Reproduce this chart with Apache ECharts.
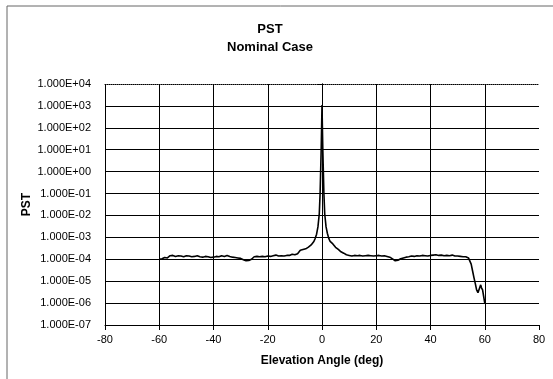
<!DOCTYPE html>
<html>
<head>
<meta charset="utf-8">
<script src="https://cdn.jsdelivr.net/npm/echarts@6/dist/echarts.min.js"></script>
<style>
    body { margin: 0; background: #fff; }
    #main { width: 553px; height: 379px; }
</style>
</head>
<body>
<div id="main"></div>
<script>
// elevation angle (deg)
var angles = [
    -60, -59, -58, -57, -56, -55, -54, -53, -52, -51,
    -50, -49, -48, -47, -46, -45, -44, -43, -42, -41,
    -40, -39, -38, -37, -36, -35, -34, -33, -32, -31,
    -30, -29, -28, -27, -26, -25, -24, -23, -22, -21,
    -20, -19, -18, -17, -16, -15, -14, -13, -12, -11,
    -10, -9, -8, -7, -6, -5, -4, -3, -2.5, -2, -1.5, -1, -0.7, -0.5, -0.3, -0.15,
    0,
    0.15, 0.3, 0.5, 0.7, 1, 1.5, 2, 2.5, 3, 4, 5, 6, 7, 8, 9,
    10, 11, 12, 13, 14, 15, 16, 17, 18, 19,
    20, 21, 22, 23, 24, 25, 26, 27, 28, 29,
    30, 31, 32, 33, 34, 35, 36, 37, 38, 39,
    40, 41, 42, 43, 44, 45, 46, 47, 48, 49,
    50, 51, 52, 53, 54, 54.5, 55, 55.5, 56, 56.5, 57, 57.5, 58, 58.5, 58.8, 59.2, 59.6, 60
];
// PST values
var pst = [
    1.0e-4, 1.05e-4, 1.2e-4, 1.15e-4, 1.45e-4, 1.5e-4, 1.35e-4, 1.45e-4, 1.4e-4, 1.3e-4,
    1.45e-4, 1.4e-4, 1.3e-4, 1.35e-4, 1.45e-4, 1.3e-4, 1.25e-4, 1.35e-4, 1.3e-4, 1.2e-4,
    1.25e-4, 1.35e-4, 1.3e-4, 1.45e-4, 1.35e-4, 1.5e-4, 1.35e-4, 1.25e-4, 1.2e-4, 1.15e-4,
    1.1e-4, 0.95e-4, 0.85e-4, 0.88e-4, 1.0e-4, 1.3e-4, 1.35e-4, 1.3e-4, 1.35e-4, 1.3e-4,
    1.4e-4, 1.35e-4, 1.45e-4, 1.55e-4, 1.4e-4, 1.45e-4, 1.4e-4, 1.5e-4, 1.5e-4, 1.7e-4,
    1.6e-4, 1.8e-4, 2.6e-4, 2.8e-4, 3.0e-4, 3.6e-4, 4.5e-4, 6.5e-4, 9e-4, 1.4e-3, 3e-3, 1.2e-2, 1e-1, 1, 1e1, 1e2,
    1.1e3,
    1e2, 1e1, 1, 1e-1, 1.2e-2, 3e-3, 1.5e-3, 9e-4, 6.5e-4, 5e-4, 3.5e-4, 2.8e-4, 2.2e-4, 1.9e-4, 1.6e-4,
    1.5e-4, 1.4e-4, 1.5e-4, 1.45e-4, 1.5e-4, 1.4e-4, 1.45e-4, 1.5e-4, 1.45e-4, 1.4e-4,
    1.45e-4, 1.5e-4, 1.4e-4, 1.45e-4, 1.35e-4, 1.25e-4, 1.05e-4, 0.85e-4, 0.9e-4, 1.05e-4,
    1.15e-4, 1.25e-4, 1.3e-4, 1.4e-4, 1.35e-4, 1.45e-4, 1.4e-4, 1.5e-4, 1.45e-4, 1.4e-4,
    1.5e-4, 1.55e-4, 1.6e-4, 1.5e-4, 1.55e-4, 1.45e-4, 1.5e-4, 1.45e-4, 1.55e-4, 1.4e-4,
    1.4e-4, 1.35e-4, 1.3e-4, 1.3e-4, 1.15e-4, 1.0e-4, 6e-5, 3e-5, 1.5e-5, 8e-6, 4e-6, 3e-6, 4.5e-6, 6.8e-6, 5e-6, 4e-6, 2e-6, 1e-6
];
var xTicks = { min: -80, max: 80, step: 20 };
var yTicks = { min: 1e-7, max: 1e4 };

var points = angles.map(function (a, i) { return [a, pst[i]]; });

function sciLabel(v) {
    var e = Math.round(Math.log(v) / Math.LN10);
    var m = v / Math.pow(10, e);
    var ex = Math.abs(e);
    return m.toFixed(3) + 'E' + (e < 0 ? '-' : '+') + (ex < 10 ? '0' : '') + ex;
}

var font = '"Liberation Sans", Arial, sans-serif';
var myChart = echarts.init(document.getElementById('main'));
var option = {
    backgroundColor: '#fff',
    animation: false,
    title: {
        text: 'PST\nNominal Case',
        left: 265,
        top: 15,
        textAlign: 'center',
        textStyle: { fontFamily: font, fontSize: 13, fontWeight: 'bold', color: '#000', lineHeight: 18 }
    },
    graphic: [{
        type: 'rect',
        shape: { x: 7, y: 6, width: 600, height: 420 },
        style: { fill: 'none', stroke: '#666', lineWidth: 1 },
        silent: true
    }],
    grid: { left: 105, right: 14, top: 84, bottom: 54 },
    xAxis: [{
        type: 'value',
        min: xTicks.min,
        max: xTicks.max,
        interval: xTicks.step,
        name: 'Elevation Angle (deg)',
        nameLocation: 'middle',
        nameGap: 30,
        nameTextStyle: { fontFamily: font, fontSize: 12, fontWeight: 'bold', color: '#000' },
        axisLine: { onZero: false, lineStyle: { color: '#000', width: 1 } },
        axisTick: { show: true, length: 5, lineStyle: { color: '#000' } },
        axisLabel: { fontFamily: font, fontSize: 11, color: '#000', margin: 9 },
        splitLine: { show: true, showMaxLine: false, lineStyle: { color: '#000', width: 1 } }
    }, {
        type: 'value',
        position: 'top',
        min: xTicks.min,
        max: xTicks.max,
        axisLine: { show: true, onZero: false, lineStyle: { color: '#000', type: 'dotted' } },
        axisTick: { show: false },
        axisLabel: { show: false },
        splitLine: { show: false }
    }],
    yAxis: [{
        type: 'log',
        logBase: 10,
        min: yTicks.min,
        max: yTicks.max,
        interval: 1,
        name: 'PST',
        nameLocation: 'middle',
        nameGap: 72,
        nameMoveOverlap: false,
        nameTextStyle: { fontFamily: font, fontSize: 12, fontWeight: 'bold', color: '#000' },
        axisLine: { show: true, lineStyle: { color: '#000', width: 1 } },
        axisTick: { show: true, length: 5, lineStyle: { color: '#000' } },
        axisLabel: { fontFamily: font, fontSize: 11, color: '#000', margin: 14, formatter: sciLabel },
        splitLine: { show: true, showMaxLine: false, lineStyle: { color: '#000', width: 1 } }
    }, {
        type: 'log',
        position: 'right',
        min: yTicks.min,
        max: yTicks.max,
        interval: 1,
        axisLine: { show: true, lineStyle: { color: '#000', type: 'dotted' } },
        axisTick: { show: false },
        axisLabel: { show: false },
        splitLine: { show: false }
    }],
    series: [{
        type: 'line',
        data: points,
        showSymbol: false,
        smooth: false,
        lineStyle: { color: '#000', width: 1.6 },
        z: 5
    }]
};
myChart.setOption(option);
</script>
</body>
</html>
